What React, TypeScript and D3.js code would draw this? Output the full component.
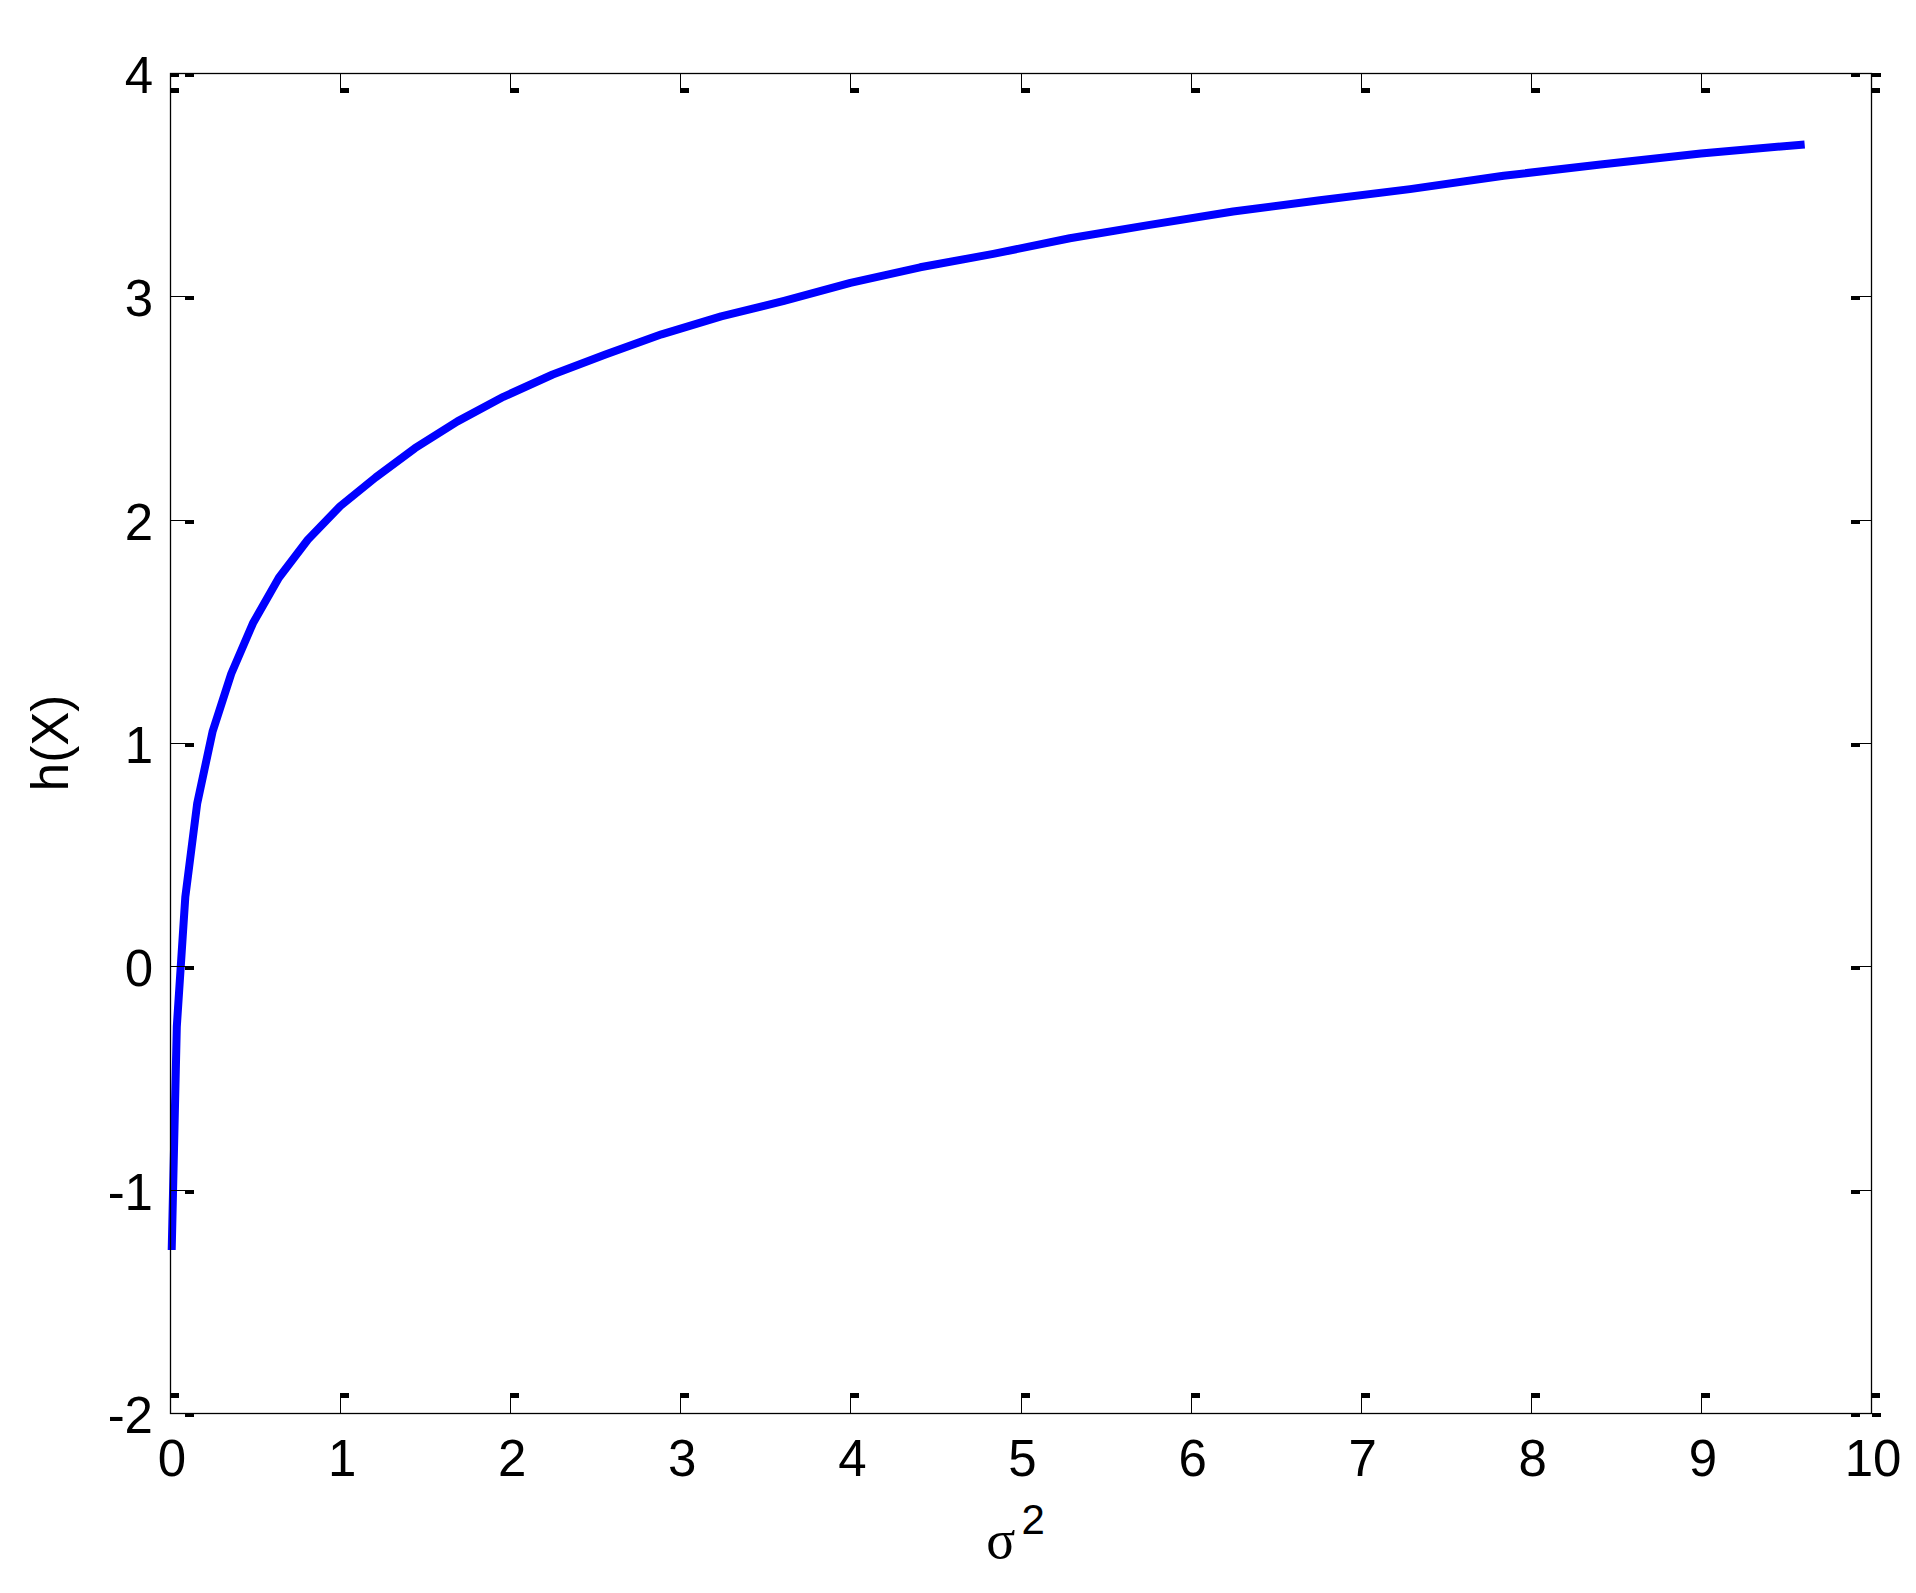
import React, { useEffect, useRef } from "react";
import * as d3 from "d3";

// sample points (sigma^2, h(X))
const sigmaSq = [
  0.01, 0.04, 0.09, 0.16, 0.25, 0.36, 0.49, 0.64, 0.81, 1.0, 1.21, 1.44, 1.69, 1.96, 2.25, 2.56,
  2.89, 3.24, 3.61, 4.0, 4.41, 4.84, 5.29, 5.76, 6.25, 6.76, 7.29, 7.84, 8.41, 9.0, 9.61,
];
const entropy = [
  -1.27, -0.27, 0.31, 0.73, 1.05, 1.31, 1.54, 1.74, 1.91, 2.06, 2.19, 2.32, 2.44, 2.55, 2.65, 2.74,
  2.83, 2.91, 2.98, 3.06, 3.13, 3.19, 3.26, 3.32, 3.38, 3.43, 3.48, 3.54, 3.59, 3.64, 3.68,
];
const xTicks = [0, 1, 2, 3, 4, 5, 6, 7, 8, 9, 10];
const yTicks = [-2, -1, 0, 1, 2, 3, 4];

const W = 1916;
const H = 1593;

export default function App() {
  const svgRef = useRef<SVGSVGElement | null>(null);

  useEffect(() => {
    document.body.style.margin = "0";
    const svg = d3.select(svgRef.current);
    svg.selectAll("*").remove();

    const left = 170, right = 1871, top = 73, bottom = 1413;
    const x = d3.scaleLinear().domain([0, 10]).range([left, right]);
    const y = d3.scaleLinear().domain([-2, 4]).range([bottom, top]);
    const font = "Arial, 'Liberation Sans', sans-serif";

    svg.append("rect").attr("width", W).attr("height", H).attr("fill", "#fff");

    // curve
    const line = d3.line<number>()
      .x((_, i) => x(sigmaSq[i]))
      .y((d) => y(d));
    svg.append("path")
      .datum(entropy)
      .attr("fill", "none")
      .attr("stroke", "#0000ff")
      .attr("stroke-width", 8)
      .attr("stroke-linejoin", "round")
      .attr("d", line);

    // box
    svg.append("rect")
      .attr("x", left + 0.5).attr("y", top + 0.5)
      .attr("width", right - left).attr("height", bottom - top)
      .attr("fill", "none").attr("stroke", "#000").attr("stroke-width", 1.3);

    const ticks = svg.append("g").attr("fill", "#000").attr("stroke", "#000");
    const tl = 15;

    // y ticks left/right
    yTicks.forEach((v) => {
      const yy = Math.round(y(v));
      ticks.append("line").attr("x1", left).attr("x2", left + tl)
        .attr("y1", yy + 0.5).attr("y2", yy + 0.5).attr("stroke-width", 1);
      ticks.append("rect").attr("x", left + tl).attr("y", yy).attr("width", 9).attr("height", 4).attr("stroke", "none");
      ticks.append("line").attr("x1", right - tl).attr("x2", right)
        .attr("y1", yy + 0.5).attr("y2", yy + 0.5).attr("stroke-width", 1);
      ticks.append("rect").attr("x", right - tl - 5).attr("y", yy).attr("width", 9).attr("height", 4).attr("stroke", "none");
    });

    // x ticks bottom/top
    xTicks.forEach((v) => {
      const xx = Math.round(x(v));
      ticks.append("line").attr("x1", xx + 0.5).attr("x2", xx + 0.5)
        .attr("y1", bottom).attr("y2", bottom - 20).attr("stroke-width", 1);
      ticks.append("rect").attr("x", xx).attr("y", bottom - 20).attr("width", 9).attr("height", 5).attr("stroke", "none");
      ticks.append("line").attr("x1", xx + 0.5).attr("x2", xx + 0.5)
        .attr("y1", top).attr("y2", top + tl).attr("stroke-width", 1);
      ticks.append("rect").attr("x", xx).attr("y", top + tl).attr("width", 9).attr("height", 5).attr("stroke", "none");
    });

    // corner marks
    [[left, top], [right + 1, top], [right + 1, bottom]].forEach(([cx, cy]) => {
      ticks.append("rect").attr("x", cx).attr("y", cy).attr("width", 9).attr("height", 4).attr("stroke", "none");
    });

    // tick labels
    svg.append("g").selectAll("text").data(xTicks).join("text")
      .attr("x", (d) => x(d) + 2)
      .attr("y", 1476)
      .attr("text-anchor", "middle")
      .attr("font-family", font)
      .attr("font-size", 51)
      .text((d) => d);

    svg.append("g").selectAll("text").data(yTicks).join("text")
      .attr("x", 153)
      .attr("y", (d) => y(d) + 20)
      .attr("text-anchor", "end")
      .attr("font-family", font)
      .attr("font-size", 51)
      .text((d) => d);

    // axis labels
    svg.append("text")
      .attr("transform", `translate(68,${(top + bottom) / 2}) rotate(-90)`)
      .attr("text-anchor", "middle")
      .attr("font-family", font)
      .attr("font-size", 51)
      .text("h(X)");

    const xl = svg.append("text")
      .attr("x", (left + right) / 2 - 5)
      .attr("y", 1558)
      .attr("text-anchor", "middle");
    xl.append("tspan")
      .attr("font-family", "'Liberation Serif', 'Times New Roman', serif")
      .attr("font-size", 54)
      .text("σ");
    xl.append("tspan")
      .attr("font-family", font)
      .attr("font-size", 42)
      .attr("dx", 6)
      .attr("dy", -24)
      .text("2");
  }, []);

  return <svg ref={svgRef} width={W} height={H} style={{ display: "block" }} />;
}
